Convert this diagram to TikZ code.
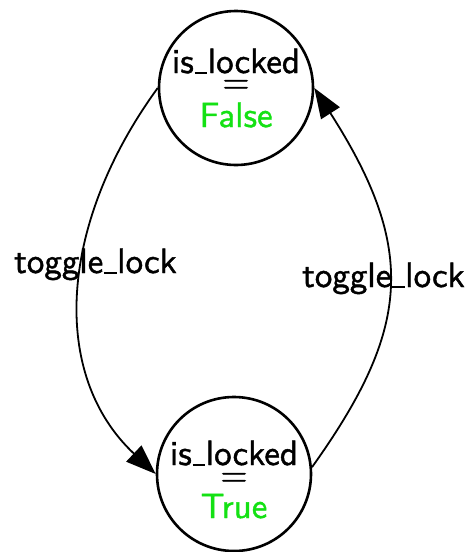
\documentclass[tikz,border=0pt]{standalone}
\usepackage{fontspec}
\newfontfamily\lmsx{lmsans10-regular}[Extension=.otf,FakeBold=1.2]
\usetikzlibrary{arrows.meta}
\definecolor{stategreen}{RGB}{20,225,20}
\newcommand\usc{\kern0.02em\rule[-0.03em]{0.36em}{0.065em}\kern0.02em}
\begin{document}
\begin{tikzpicture}[x=1pt,y=-1pt,
  state/.style={draw=black,line width=2.6pt,circle,minimum size=154pt,inner sep=0pt},
  txt/.style={inner sep=0pt,anchor=base,font=\lmsx\fontsize{35}{35}\selectfont},
  eqtxt/.style={txt,text height=0.38em,text depth=-0.12em},
  edge/.style={draw=black,line width=1.8pt,-{Triangle[length=30pt,width=22pt]}}]
\useasboundingbox (0,0) rectangle (469,552);
\node[state] (f) at (236,88) {};
\node[state] (t) at (234,474) {};
\node[txt] (f1) at (236,73) {is\usc locked};
\node[eqtxt] (f2) at (236,93) {=};
\node[txt,text=stategreen] (f3) at (236,127) {False};
\node[txt] (t1) at (234,465) {is\usc locked};
\node[eqtxt] (t2) at (234,486) {=};
\node[txt,text=stategreen] (t3) at (234,518) {True};
\draw[edge] (f.west) .. controls (58,225) and (50,375) .. (t.west);
\draw[edge] (t.5) .. controls (410,330) and (418,250) .. (f.east);
\node[txt] (l1) at (95.5,273) {toggle\usc lock};
\node[txt] (l2) at (383.5,287) {toggle\usc lock};
\end{tikzpicture}
\end{document}
